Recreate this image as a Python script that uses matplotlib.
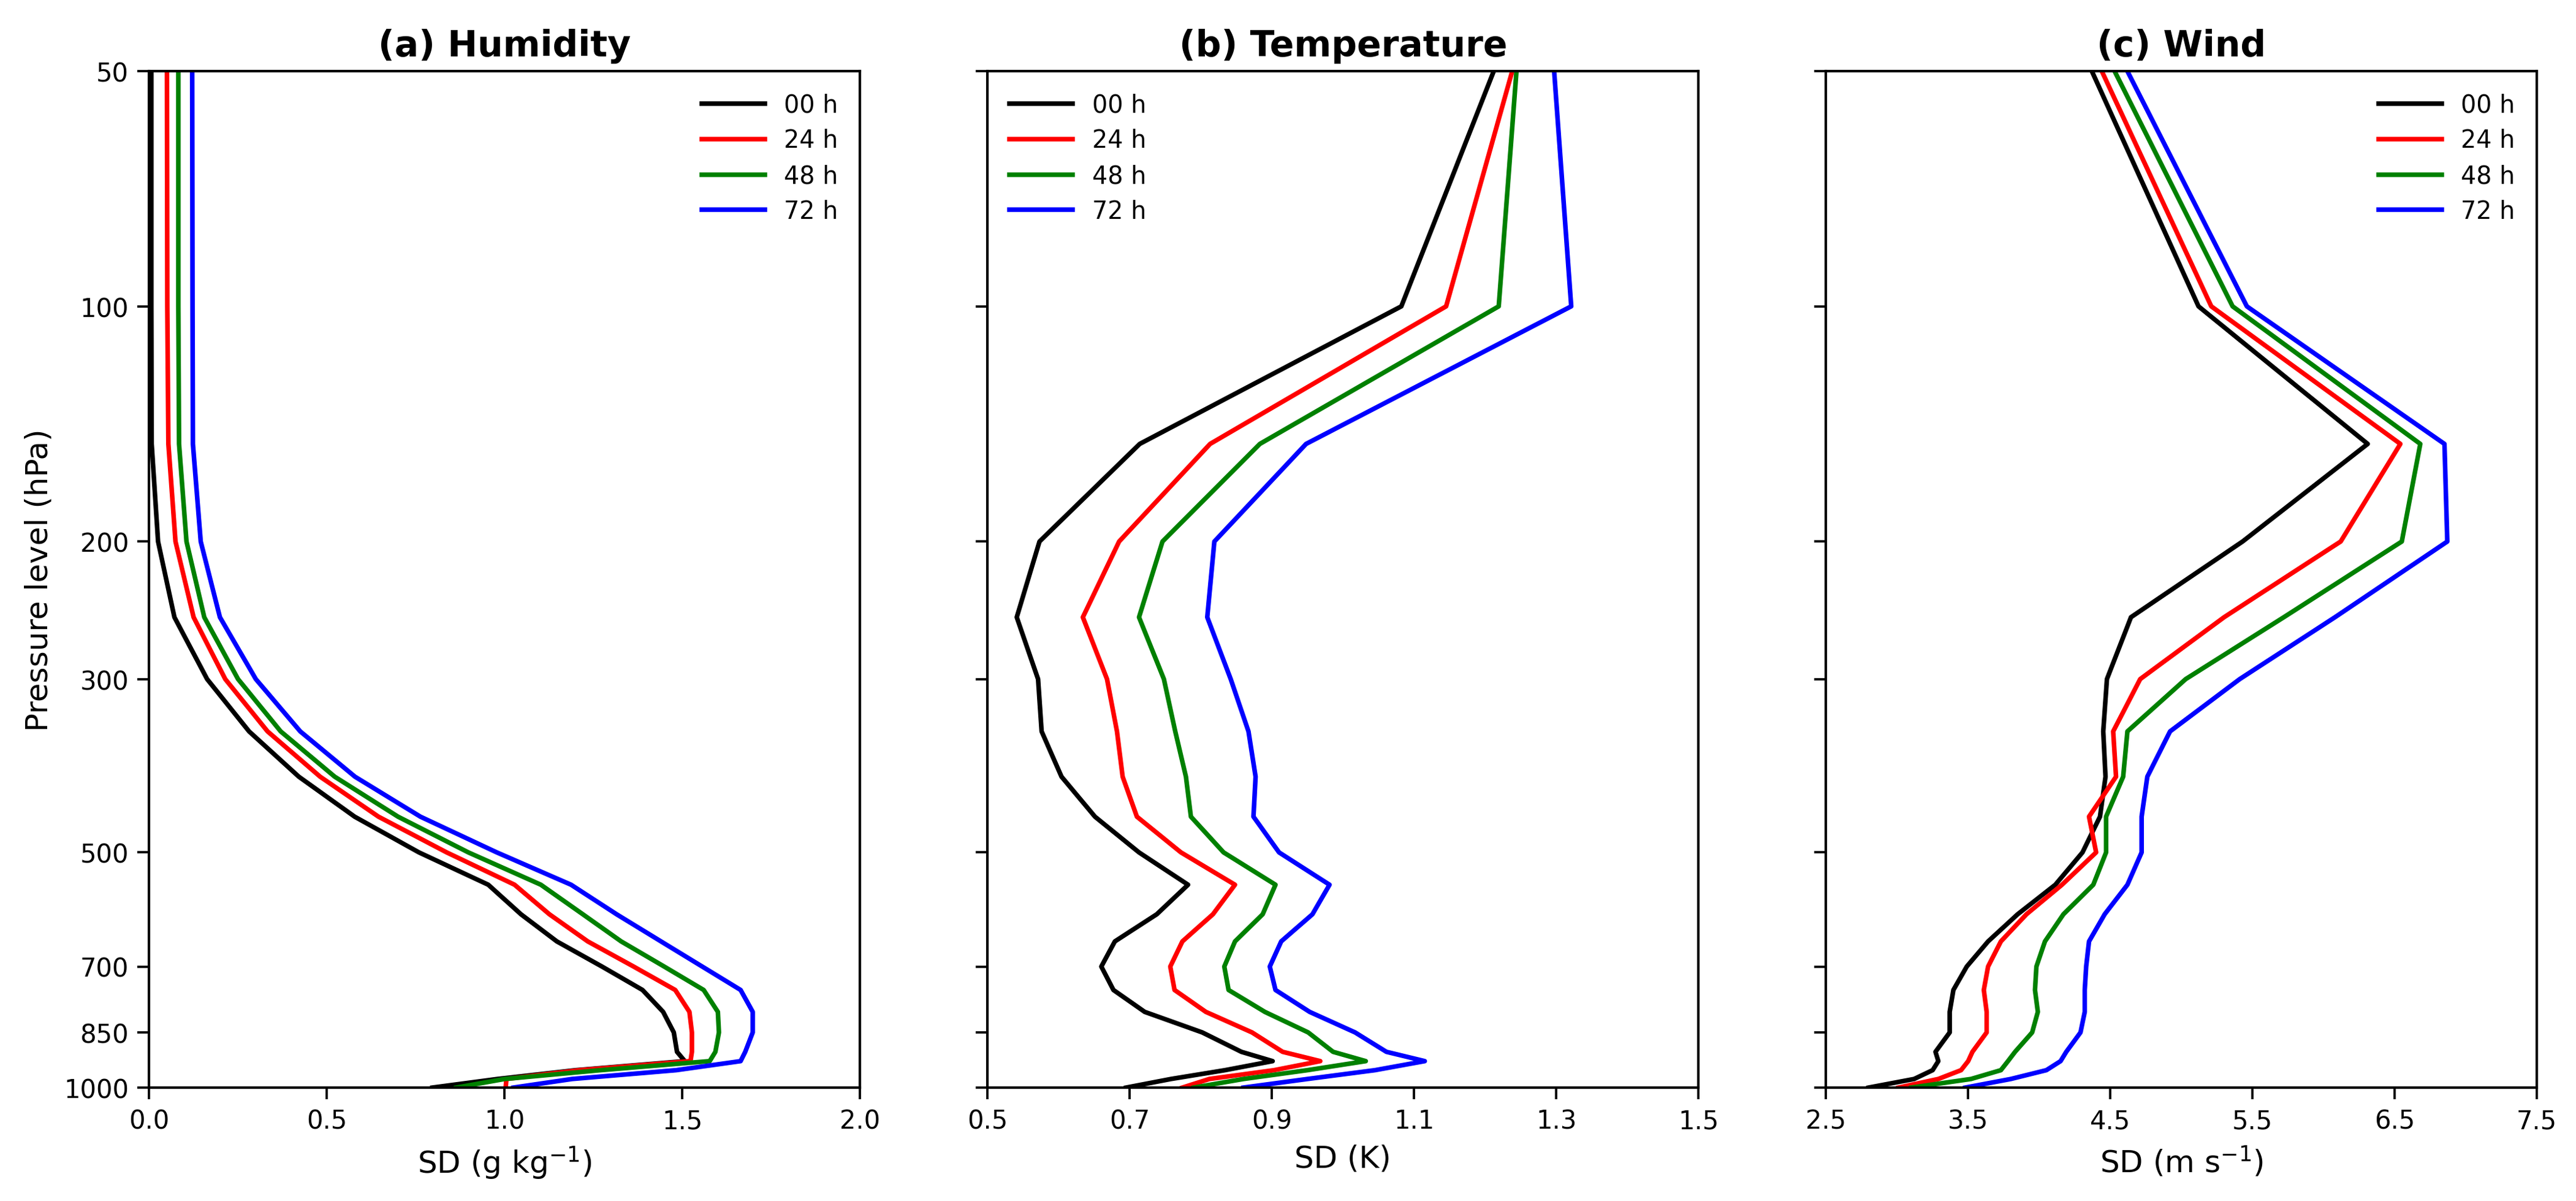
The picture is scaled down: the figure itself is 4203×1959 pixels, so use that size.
import matplotlib
matplotlib.use("Agg")
import matplotlib.pyplot as plt
from matplotlib.ticker import FixedLocator, NullLocator, FormatStrFormatter

levels = [50, 100, 150, 200, 250, 300, 350, 400, 450, 500, 550, 600, 650,
          700, 750, 800, 850, 900, 925, 950, 975, 1000]
leads = ["00 h", "24 h", "48 h", "72 h"]
colors = ["black", "red", "green", "blue"]

# humidity SD (g/kg)
q_00 = [0.006, 0.006, 0.007, 0.025, 0.071, 0.163, 0.281, 0.421, 0.578, 0.759, 0.954,
        1.046, 1.147, 1.274, 1.388, 1.446, 1.476, 1.485, 1.507, 1.20, 0.98, 0.797]
q_24 = [0.050, 0.051, 0.054, 0.074, 0.125, 0.214, 0.333, 0.481, 0.645, 0.837, 1.028,
        1.126, 1.234, 1.363, 1.480, 1.520, 1.527, 1.527, 1.523, 1.21, 1.005, 1.003]
q_48 = [0.082, 0.082, 0.084, 0.105, 0.155, 0.250, 0.370, 0.522, 0.700, 0.898, 1.102,
        1.220, 1.328, 1.449, 1.560, 1.600, 1.603, 1.593, 1.577, 1.27, 1.00, 0.864]
q_72 = [0.121, 0.122, 0.123, 0.145, 0.199, 0.300, 0.425, 0.579, 0.763, 0.978, 1.187,
        1.315, 1.440, 1.556, 1.664, 1.698, 1.698, 1.677, 1.664, 1.483, 1.19, 1.025]

# temperature SD (K)
t_00 = [1.212, 1.082, 0.714, 0.573, 0.541, 0.571, 0.576, 0.604, 0.651, 0.713, 0.782,
        0.738, 0.679, 0.660, 0.677, 0.721, 0.802, 0.857, 0.901, 0.834, 0.758, 0.695]
t_24 = [1.238, 1.145, 0.813, 0.685, 0.634, 0.668, 0.682, 0.690, 0.710, 0.772, 0.848,
        0.817, 0.774, 0.757, 0.763, 0.807, 0.872, 0.915, 0.968, 0.903, 0.812, 0.774]
t_48 = [1.244, 1.219, 0.883, 0.746, 0.713, 0.748, 0.764, 0.779, 0.786, 0.832, 0.905,
        0.887, 0.848, 0.833, 0.839, 0.890, 0.951, 0.986, 1.032, 0.950, 0.860, 0.790]
t_72 = [1.297, 1.321, 0.948, 0.819, 0.809, 0.842, 0.867, 0.877, 0.874, 0.910, 0.981,
        0.957, 0.913, 0.897, 0.905, 0.953, 1.017, 1.061, 1.115, 1.045, 0.950, 0.860]

# wind SD (m/s)
w_00 = [4.37, 5.12, 6.31, 5.43, 4.645, 4.476, 4.45, 4.466, 4.427, 4.304, 4.113,
        3.848, 3.64, 3.49, 3.396, 3.37, 3.37, 3.27, 3.29, 3.25, 3.12, 2.80]
w_24 = [4.44, 5.21, 6.54, 6.12, 5.30, 4.71, 4.52, 4.54, 4.35, 4.40, 4.16,
        3.91, 3.73, 3.64, 3.61, 3.63, 3.63, 3.53, 3.50, 3.45, 3.29, 3.01]
w_48 = [4.53, 5.36, 6.68, 6.55, 5.72, 5.03, 4.62, 4.59, 4.47, 4.47, 4.38,
        4.17, 4.04, 3.98, 3.97, 3.99, 3.95, 3.83, 3.78, 3.73, 3.52, 3.10]
w_72 = [4.62, 5.46, 6.85, 6.87, 6.08, 5.41, 4.92, 4.76, 4.72, 4.72, 4.62,
        4.46, 4.35, 4.33, 4.32, 4.32, 4.29, 4.19, 4.15, 4.05, 3.80, 3.48]

ytick_vals = [50, 100, 200, 300, 500, 700, 850, 1000]

panels = [
    ("(a) Humidity", [q_00, q_24, q_48, q_72], "SD (g kg$^{-1}$)",
     [0.0, 0.5, 1.0, 1.5, 2.0], "upper right"),
    ("(b) Temperature", [t_00, t_24, t_48, t_72], "SD (K)",
     [0.5, 0.7, 0.9, 1.1, 1.3, 1.5], "upper left"),
    ("(c) Wind", [w_00, w_24, w_48, w_72], "SD (m s$^{-1}$)",
     [2.5, 3.5, 4.5, 5.5, 6.5, 7.5], "upper right"),
]
lefts = [0.0579, 0.3833, 0.7087]
width, bottom, height = 0.2759, 0.0944, 0.8459

fig = plt.figure(figsize=(14.013, 6.533), dpi=300)

for i, (title, series, xlab, xt, loc) in enumerate(panels):
    ax = fig.add_axes([lefts[i], bottom, width, height])
    for vals, name, c in zip(series, leads, colors):
        ax.plot(vals, levels, color=c, lw=1.8, label=name)
    ax.set_yscale("log")
    ax.set_ylim(1000, 50)
    ax.yaxis.set_major_locator(FixedLocator(ytick_vals))
    ax.yaxis.set_minor_locator(NullLocator())
    if i == 0:
        ax.set_yticklabels([str(v) for v in ytick_vals])
        ax.set_ylabel("Pressure level (hPa)", fontsize=12)
    else:
        ax.set_yticklabels([])
    ax.set_xlim(xt[0], xt[-1])
    ax.set_xticks(xt)
    ax.xaxis.set_major_formatter(FormatStrFormatter("%.1f"))
    ax.tick_params(labelsize=10, length=4.5, width=0.9)
    for sp in ax.spines.values():
        sp.set_linewidth(1.0)
    ax.set_xlabel(xlab, fontsize=12)
    ax.set_title(title, fontsize=14, fontweight="bold")
    ax.legend(loc=loc, frameon=False, fontsize=9.5, handlelength=2.6,
              labelspacing=0.45)

fig.savefig("out.png", dpi=300)
